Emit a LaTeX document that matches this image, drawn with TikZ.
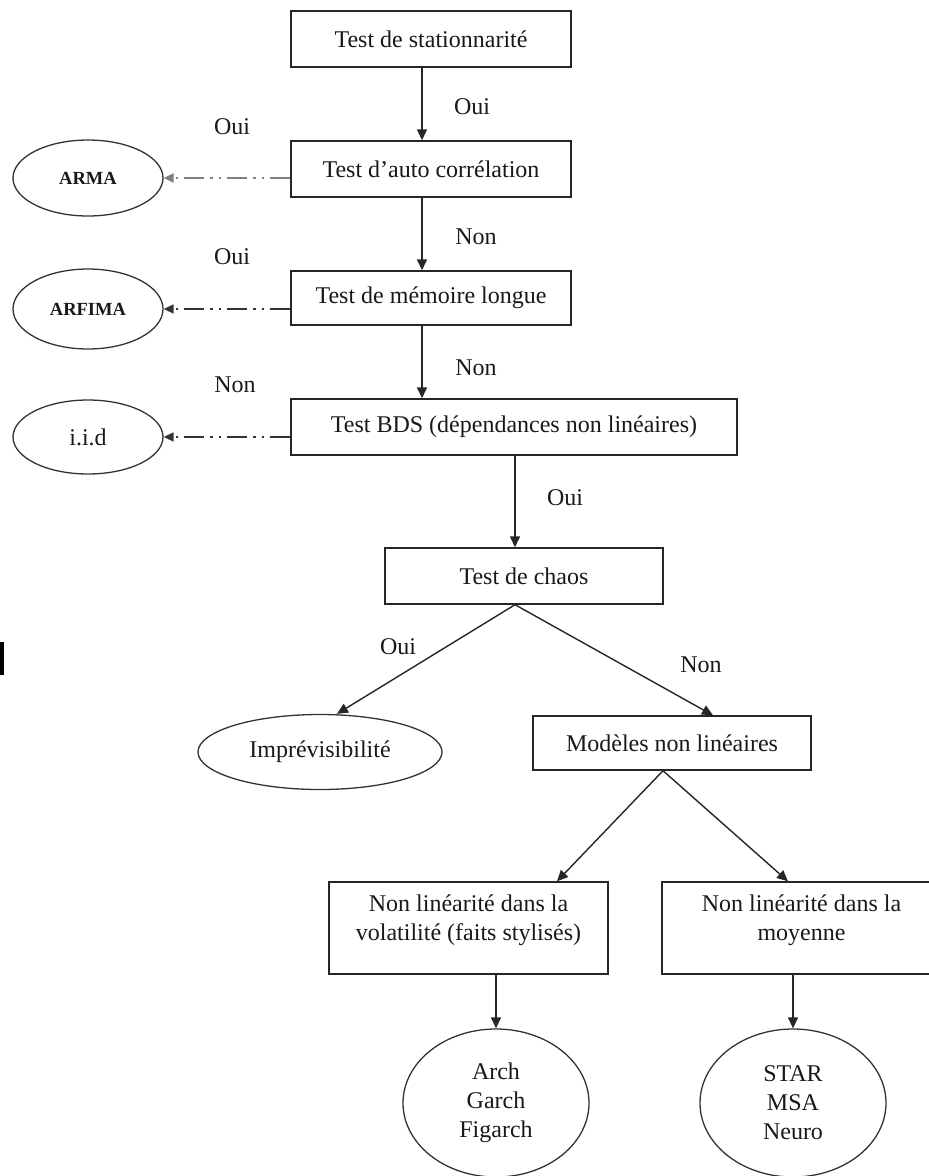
\documentclass[tikz,border=0pt]{standalone}
\usepackage{fontspec}
\setmainfont{Liberation Serif}
\usetikzlibrary{arrows.meta,shapes.geometric,calc}
\begin{document}
\begin{tikzpicture}[x=1pt,y=-1pt,
  every node/.style={font=\fontsize{24}{29}\selectfont, text=black!90},
  boxnode/.style={draw=black!85, line width=1.4pt, rectangle, inner sep=0pt},
  ellnode/.style={draw=black!80, line width=1.3pt, ellipse, inner sep=0pt},
  arr/.style={draw=black!85, line width=1.4pt, -{Triangle[length=11pt,width=10pt]}},
  dd/.style={line width=1.4pt, dash pattern=on 20pt off 6pt on 2.5pt off 6pt on 2.5pt off 6pt, -{Triangle[length=10pt,width=9pt]}},
  lbl/.style={inner sep=0pt},
  small/.style={font=\fontsize{18.5}{22}\selectfont\bfseries}
]
\useasboundingbox (0,0) rectangle (929,1176);
\clip (0,0) rectangle (929,1176);
\fill[white] (0,0) rectangle (929,1176);

% boxes
\node[boxnode, minimum width=280pt, minimum height=56pt] (b1) at (431,39) {Test de stationnarité};
\node[boxnode, minimum width=280pt, minimum height=56pt] (b2) at (431,169) {Test d’auto corrélation};
\node[boxnode, minimum width=280pt, minimum height=54pt] (b3) at (431,298) {Test de mémoire longue};
\node[boxnode, minimum width=446pt, minimum height=56pt] (b4) at (514,427) {Test BDS (dépendances non linéaires)};
\node[boxnode, minimum width=278pt, minimum height=56pt] (b5) at (524,576) {Test de chaos};
\node[boxnode, minimum width=278pt, minimum height=54pt] (mod) at (672,743) {Modèles non linéaires};
\node[boxnode, minimum width=279pt, minimum height=92pt] (b6) at (468.5,928) {};
\node[lbl, align=center, anchor=north] (t6) at ([yshift=-13pt]b6.north) {Non linéarité dans la\\volatilité (faits stylisés)};
\node[boxnode, minimum width=279pt, minimum height=92pt] (b7) at (801.5,928) {};
\node[lbl, align=center, anchor=north] (t7) at ([yshift=-13pt]b7.north) {Non linéarité dans la\\moyenne};

% ellipses
\node[ellnode, minimum width=150pt, minimum height=76pt, small] (arma) at (88,178) {ARMA};
\node[ellnode, minimum width=150pt, minimum height=80pt, small] (arfima) at (88,309) {ARFIMA};
\node[ellnode, minimum width=150pt, minimum height=74pt] (iid) at (88,437) {i.i.d};
\node[ellnode, minimum width=244pt, minimum height=75pt] (impr) at (320,752) {Imprévisibilité};
\node[ellnode, minimum width=186pt, minimum height=148pt, align=center] (arch) at (496,1103) {Arch\\Garch\\Figarch};
\node[ellnode, minimum width=186pt, minimum height=148pt, align=center] (star) at (793,1103) {STAR\\MSA\\Neuro};

% labels
\node[lbl] (l1) at (472,107) {Oui};
\node[lbl] (l2) at (476,237) {Non};
\node[lbl] (l3) at (476,368) {Non};
\node[lbl] (l4) at (232,127) {Oui};
\node[lbl] (l5) at (232,257) {Oui};
\node[lbl] (l6) at (235,385) {Non};
\node[lbl] (l7) at (565,498) {Oui};
\node[lbl] (l8) at (398,647) {Oui};
\node[lbl] (l9) at (701,665) {Non};

% vertical connectors
\coordinate (c1) at ([xshift=-9pt]b1.south);
\coordinate (c2) at ([xshift=-9pt]b2.south);
\coordinate (c3) at ([xshift=-9pt]b3.south);
\draw[arr] (c1) -- (c1 |- b2.north);
\draw[arr] (c2) -- (c2 |- b3.north);
\draw[arr] (c3) -- (c3 |- b4.north);
\draw[arr] ([xshift=1pt]b4.south) -- ([xshift=-9pt]b5.north);
\draw[arr] ([xshift=-9pt]b5.south) -- ([xshift=17pt]impr.north);
\draw[arr] ([xshift=-9pt]b5.south) -- ([xshift=41pt]mod.north);
\draw[arr] ([xshift=-9pt]mod.south) -- ([xshift=88.5pt]b6.north);
\draw[arr] ([xshift=-9pt]mod.south) -- ([xshift=-13.5pt]b7.north);
\draw[arr] (arch.north |- b6.south) -- (arch.north);
\draw[arr] (star.north |- b7.south) -- (star.north);

% dash-dot connectors
\draw[dd, draw=black!50, line width=2.2pt] (b2.west |- arma.east) -- (arma.east);
\draw[dd, draw=black!80] (b3.west |- arfima.east) -- (arfima.east);
\draw[dd, draw=black!80] (b4.west |- iid.east) -- (iid.east);

% black mark at the left edge
\fill[black] (0,642) rectangle (4,675);
\end{tikzpicture}
\end{document}
